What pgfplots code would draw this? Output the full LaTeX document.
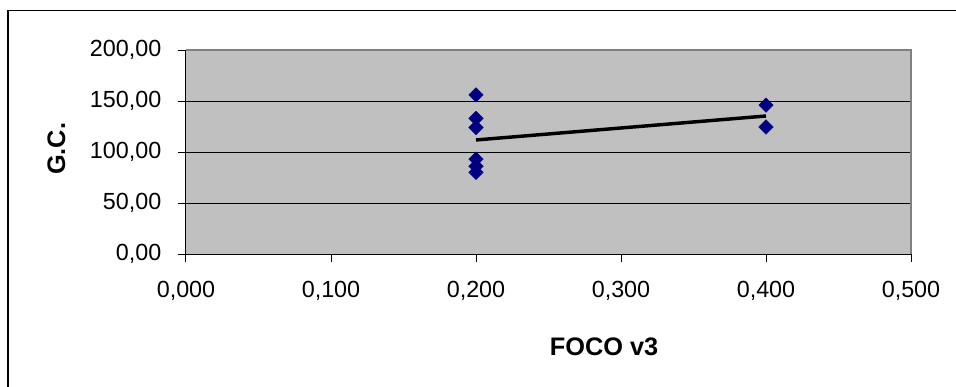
\documentclass[border=0pt]{standalone}
\usepackage{fontspec}
\setmainfont{Liberation Sans}
\usepackage{pgfplots}
\pgfplotsset{compat=1.18}
\definecolor{plotgray}{HTML}{C0C0C0}
\definecolor{navymark}{HTML}{000080}
\definecolor{bordergray}{HTML}{808080}
\begin{document}
\begin{tikzpicture}[font=\fontsize{17.5pt}{21pt}\selectfont]
\path[use as bounding box] (-139.5pt,-99pt) rectangle (577.5pt,190.5pt);
\draw[line width=1.3pt] (-133.5pt,-120pt) -- (-133.5pt,182.6pt) -- (600pt,182.6pt);
\begin{axis}[
  at={(0pt,0pt)}, anchor=south west,
  scale only axis, width=543.75pt, height=153pt,
  xmin=0, xmax=0.5, ymin=0, ymax=200,
  xtick={0,0.1,0.2,0.3,0.4,0.5},
  ytick={0,50,100,150,200},
  tick align=outside, major tick length=6pt,
  tick style={black, line width=0.75pt},
  ymajorgrids, grid style={black, line width=0.75pt},
  axis background/.style={fill=plotgray},
  axis x line*=bottom, axis y line*=left,
  axis line style={-, black, line width=0.75pt},
  /pgf/number format/assume math mode=true,
  tick label style={font=\fontsize{17.5pt}{21pt}\selectfont},
  label style={font=\fontsize{19pt}{23pt}\selectfont\bfseries},
  xticklabel style={yshift=-10.5pt, /pgf/number format/fixed, /pgf/number format/fixed zerofill, /pgf/number format/precision=3, /pgf/number format/use comma, /pgf/number format/1000 sep={}},
  yticklabel style={xshift=-9pt, /pgf/number format/fixed, /pgf/number format/fixed zerofill, /pgf/number format/precision=2, /pgf/number format/use comma, /pgf/number format/1000 sep={}},
  xlabel={FOCO v3},
  ylabel={G.C.},
  xlabel style={at={(axis description cs:0.5766,-0.455)}, anchor=center},
  ylabel style={at={(axis description cs:-0.1786,0.515)}, anchor=center},
  clip=false,
]
\addplot[only marks, mark=square*, mark size=3.8pt, mark options={rotate=45, fill=navymark, draw=navymark}]
coordinates {
  (0.2,156) (0.2,133) (0.2,124) (0.2,93) (0.2,86) (0.2,80)
  (0.4,146) (0.4,124.5)
};
\addplot[black, line width=2.6pt, no marks] coordinates {(0.2,111.8) (0.4,135.3)};
\draw[bordergray, line width=1.5pt] (rel axis cs:0,1) -- (rel axis cs:1,1) -- (rel axis cs:1,0);
\end{axis}
\end{tikzpicture}
\end{document}
